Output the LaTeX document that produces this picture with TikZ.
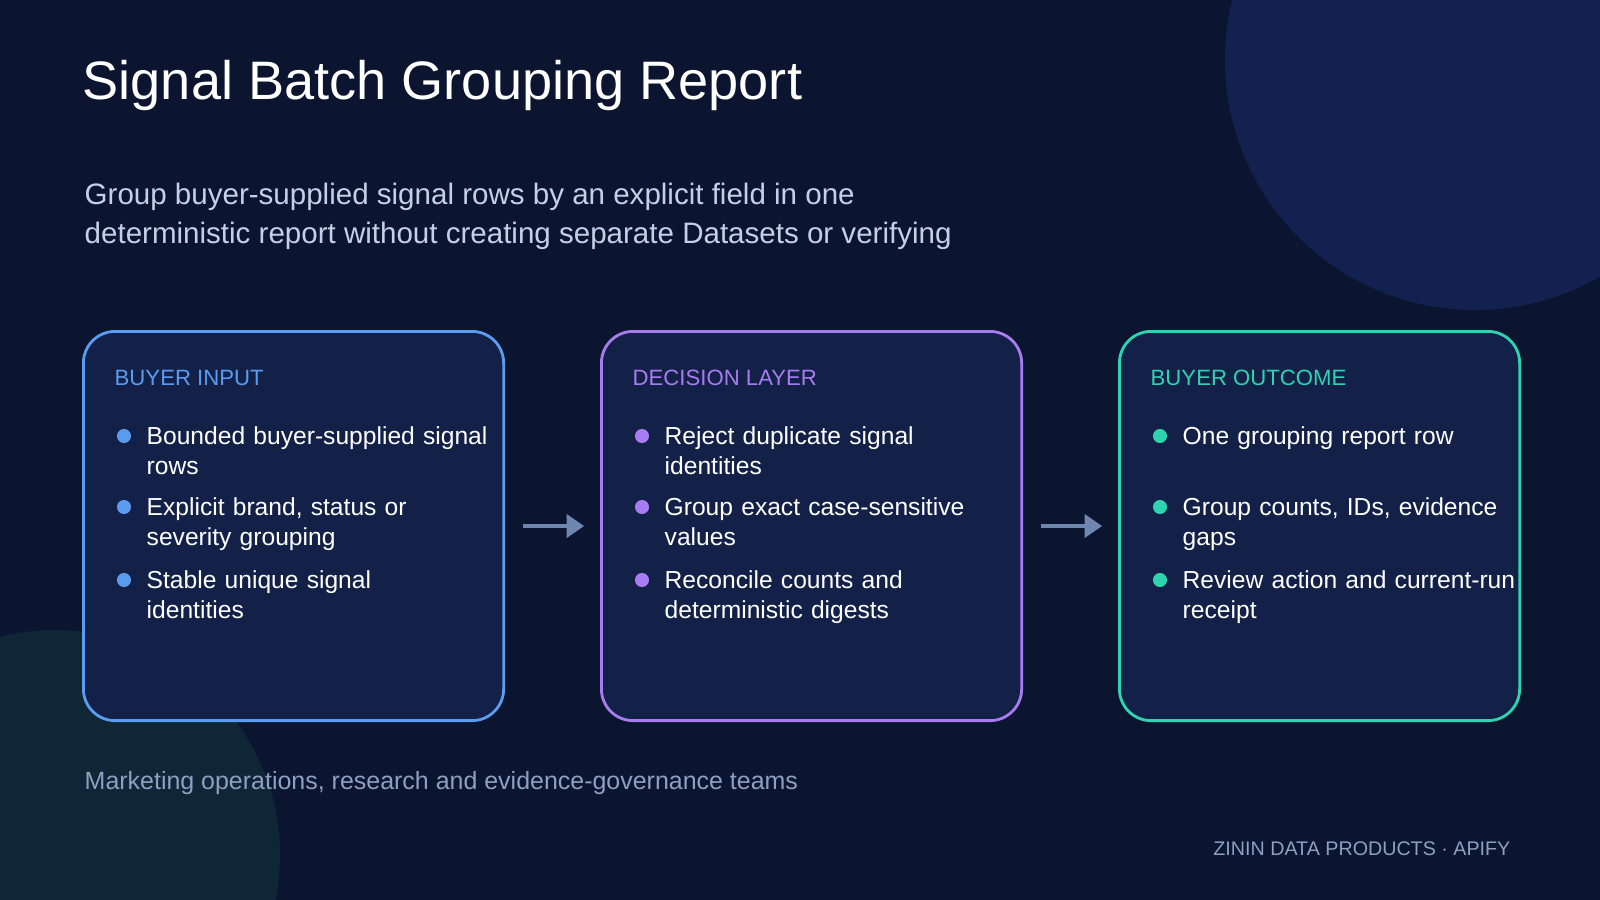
\documentclass[tikz,border=0pt]{standalone}
\usepackage{fontspec}
\setmainfont{Liberation Sans}
\usetikzlibrary{arrows.meta}
\definecolor{bgcol}{HTML}{0B1530}
\definecolor{boxcol}{HTML}{132149}
\definecolor{incol}{HTML}{5B9CF0}
\definecolor{deccol}{HTML}{A87CF0}
\definecolor{outcol}{HTML}{2ED3B0}
\definecolor{subcol}{HTML}{C5D0E8}
\definecolor{footcol}{HTML}{8F9FC2}
\definecolor{arrcol}{HTML}{6F86B0}
\definecolor{blobcol}{HTML}{122150}
\definecolor{tealblob}{HTML}{0E2636}
\tikzset{
  card/.style={draw=#1, line width=0.8pt, fill=boxcol, rounded corners=9pt},
  head/.style={anchor=base west, font=\fontsize{6.3pt}{7pt}\selectfont, text=#1, inner sep=0},
  item/.style={anchor=base west, font=\fontsize{7pt}{8.8pt}\selectfont, text=white,
    text width=3.6cm, align=left, inner sep=0},
  dot/.style={fill=#1, circle, inner sep=0, minimum size=4pt},
  flow/.style={draw=arrcol, line width=1.3pt, -{Triangle[length=5pt,width=6.5pt]}}
}
\begin{document}
\begin{tikzpicture}[x=0.01cm, y=-0.01cm]
  \fill[bgcol] (0,0) rectangle (1600,900);
  \useasboundingbox (0,0) rectangle (1600,900);
  % background circles
  \fill[blobcol] (1475,60) circle (250);
  \fill[tealblob] (55,855) circle (225);

  \node[anchor=base west, inner sep=0, text=white, font=\fontsize{15.4pt}{18pt}\selectfont] (title) at (82,100) {Signal Batch Grouping Report};
  \node[anchor=base west, inner sep=0, text=subcol, font=\fontsize{8.4pt}{11pt}\selectfont] (sub1) at (84,204) {Group buyer-supplied signal rows by an explicit field in one};
  \node[anchor=base west, inner sep=0, text=subcol, font=\fontsize{8.4pt}{11pt}\selectfont] (sub2) at (84,243) {deterministic report without creating separate Datasets or verifying};

  % cards
  \node[card=incol, minimum width=4.2cm, minimum height=3.89cm, anchor=north west] (in) at (82,330) {};
  \node[card=deccol, minimum width=4.2cm, minimum height=3.89cm, anchor=north west] (dec) at (600,330) {};
  \node[card=outcol, minimum width=4.0cm, minimum height=3.89cm, anchor=north west] (out) at (1118,330) {};

  \node[head=incol] (inhead) at (114,385) {BUYER INPUT};
  \node[head=deccol] (dechead) at (632,385) {DECISION LAYER};
  \node[head=outcol] (outhead) at (1150,385) {BUYER OUTCOME};

  % buyer input
  \node[dot=incol] (d11) at (124,436) {};
  \node[item] (i11) at (146,444) {Bounded buyer-supplied signal\\rows};
  \node[dot=incol] (d12) at (124,507) {};
  \node[item] (i12) at (146,515) {Explicit brand, status or\\severity grouping};
  \node[dot=incol] (d13) at (124,580) {};
  \node[item] (i13) at (146,588) {Stable unique signal\\identities};

  % decision layer
  \node[dot=deccol] (d21) at (642,436) {};
  \node[item] (i21) at (664,444) {Reject duplicate signal\\identities};
  \node[dot=deccol] (d22) at (642,507) {};
  \node[item] (i22) at (664,515) {Group exact case-sensitive\\values};
  \node[dot=deccol] (d23) at (642,580) {};
  \node[item] (i23) at (664,588) {Reconcile counts and\\deterministic digests};

  % buyer outcome
  \node[dot=outcol] (d31) at (1160,436) {};
  \node[item] (i31) at (1182,444) {One grouping report row};
  \node[dot=outcol] (d32) at (1160,507) {};
  \node[item] (i32) at (1182,515) {Group counts, IDs, evidence\\gaps};
  \node[dot=outcol] (d33) at (1160,580) {};
  \node[item] (i33) at (1182,588) {Review action and current-run\\receipt};

  \draw[flow] ([xshift=5pt]in.east) -- ([xshift=-4.5pt]dec.west);
  \draw[flow] ([xshift=5pt]dec.east) -- ([xshift=-4.5pt]out.west);

  \node[anchor=base west, inner sep=0, text=footcol, font=\fontsize{7.1pt}{8pt}\selectfont] (aud) at (84,789) {Marketing operations, research and evidence-governance teams};
  \node[anchor=base east, inner sep=0, text=footcol, font=\fontsize{5.6pt}{7pt}\selectfont] (brand) at (1511,855) {ZININ DATA PRODUCTS · APIFY};
\end{tikzpicture}
\end{document}
